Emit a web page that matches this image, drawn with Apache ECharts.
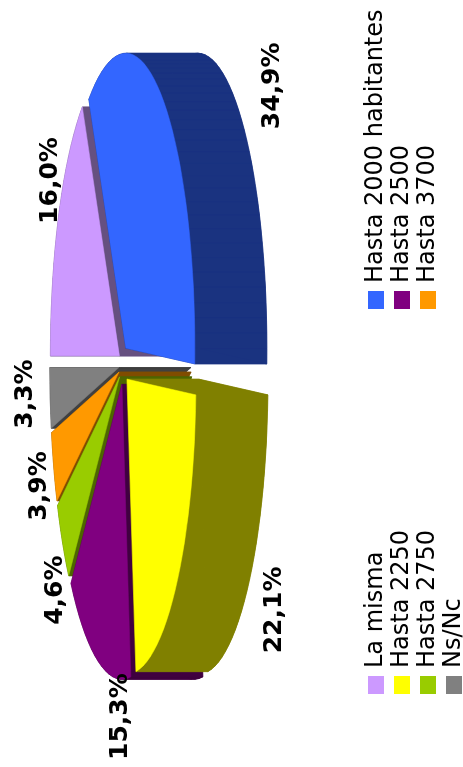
<!DOCTYPE html>
<html>
<head>
<meta charset="utf-8">
<style>
  html, body { margin: 0; padding: 0; background: #fff; width: 463px; height: 767px; overflow: hidden; }
  /* the source chart is laid out landscape and turned a quarter to the left */
  #myChart {
    position: absolute; left: 0; top: 0; width: 767px; height: 463px;
    transform-origin: 0 0; transform: translateY(767px) rotate(-90deg);
  }
</style>
</head>
<body>
<div id="myChart"></div>
<script src="https://cdn.jsdelivr.net/npm/echarts@6/dist/echarts.min.js"></script>
<script>
const categories = ['La misma', 'Hasta 2000 habitantes', 'Hasta 2250', 'Hasta 2500', 'Hasta 2750', 'Hasta 3700', 'Ns/Nc'];
const percents = [16.0, 34.9, 22.1, 15.3, 4.6, 3.9, 3.3];
const legendLeft = ['La misma', 'Hasta 2250', 'Hasta 2750', 'Ns/Nc'];
const legendRight = ['Hasta 2000 habitantes', 'Hasta 2500', 'Hasta 3700'];

const colors = ['#cc99ff', '#3366ff', '#ffff00', '#800080', '#99cc00', '#ff9900', '#808080'];
const sideColors = ['#665080', '#1a3380', '#808000', '#400040', '#4d6600', '#804c00', '#404040'];
// paint order, back of the pie first
const zBySlice = [3, 6, 6, 4, 3, 2, 1];
// label position from the rim point of each slice, px
const labelOffsets = [[43, -13], [25, 114], [-44, 100], [-74, 21], [-59, -11], [-25, -19], [2, -29]];

const CENTER_X = 401.5;
const CENTER_Y = 123.5;
const RADIUS_X = 295;
const RADIUS_Y = 69;
const DEPTH = 72 / RADIUS_Y;
const EXPLODE = 0.068;
const FONT = '"DejaVu Sans"';

const total = percents.reduce((a, b) => a + b, 0);

function renderSlice(index, api) {
  let start = 0;
  for (let i = 0; i < index; i++) start += percents[i];
  const a0 = (start / total) * Math.PI * 2;
  const a1 = ((start + percents[index]) / total) * Math.PI * 2;
  const mid = (a0 + a1) / 2;

  const apex = [EXPLODE * Math.sin(mid), EXPLODE * Math.cos(mid)];
  const ring = [apex];
  const steps = Math.max(2, Math.round((a1 - a0) / (Math.PI / 60)));
  for (let s = 0; s <= steps; s++) {
    const t = a0 + ((a1 - a0) * s) / steps;
    ring.push([apex[0] + Math.sin(t), apex[1] + Math.cos(t)]);
  }
  const topFace = ring.map((p) => api.coord(p));
  const lowFace = ring.map((p) => api.coord([p[0], p[1] - DEPTH]));

  const side = { fill: sideColors[index], stroke: sideColors[index], lineWidth: 0.5 };
  const children = [{ type: 'polygon', shape: { points: lowFace }, style: side }];
  for (let i = 0; i < ring.length; i++) {
    const j = (i + 1) % ring.length;
    children.push({
      type: 'polygon',
      shape: { points: [topFace[i], topFace[j], lowFace[j], lowFace[i]] },
      style: side,
    });
  }
  children.push({
    type: 'polygon',
    shape: { points: topFace },
    style: { fill: colors[index], stroke: colors[index], lineWidth: 0.5 },
  });

  const rim = api.coord([Math.sin(mid), Math.cos(mid)]);
  children.push({
    type: 'text',
    z2: 100,
    x: rim[0] + labelOffsets[index][0],
    y: rim[1] + labelOffsets[index][1],
    style: {
      text: `${percents[index].toFixed(1).replace('.', ',')}%`,
      font: `bold 25px ${FONT}`,
      fill: '#000',
      textAlign: 'center',
      textVerticalAlign: 'middle',
    },
  });
  return { type: 'group', children };
}

const myChart = echarts.init(document.getElementById('myChart'), null, { width: 767, height: 463 });

const legendBase = {
  orient: 'vertical',
  top: 364,
  height: 140,
  icon: 'rect',
  itemWidth: 18,
  itemHeight: 16,
  itemGap: 2,
  padding: 0,
  selectedMode: false,
  textStyle: { fontFamily: FONT, fontSize: 24, color: '#000', padding: [0, 0, 0, 3] },
};

myChart.setOption({
  animation: false,
  backgroundColor: '#fff',
  legend: [
    Object.assign({}, legendBase, { left: 73, data: legendLeft }),
    Object.assign({}, legendBase, { left: 458, data: legendRight }),
  ],
  // hidden axes, one unit is one pie radius
  grid: { left: 0, right: 0, top: 0, bottom: 0 },
  xAxis: { type: 'value', show: false, min: -CENTER_X / RADIUS_X, max: (767 - CENTER_X) / RADIUS_X },
  yAxis: { type: 'value', show: false, min: (CENTER_Y - 463) / RADIUS_Y, max: CENTER_Y / RADIUS_Y },
  series: categories.map((name, index) => ({
    name,
    type: 'custom',
    z: zBySlice[index],
    clip: false,
    silent: true,
    itemStyle: { color: colors[index] },
    encode: { x: 0, y: 1 },
    data: [[0, 0, percents[index]]],
    renderItem: (params, api) => renderSlice(index, api),
  })),
});
</script>
</body>
</html>
